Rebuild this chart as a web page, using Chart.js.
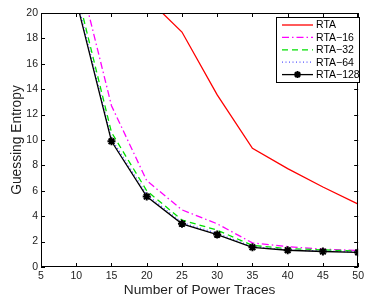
<!DOCTYPE html>
<html><head><meta charset="utf-8">
<script src="https://cdn.jsdelivr.net/npm/chart.js@4.4.1/dist/chart.umd.min.js"></script>
<style>html,body{margin:0;padding:0;background:#fff}#wrap{width:367px;height:299px}</style>
</head><body><div id="wrap"><canvas id="c" width="367" height="299"></canvas></div>
<script>
const traces = [5, 10, 15, 20, 25, 30, 35, 40, 45, 50];
const seriesNames = ['RTA', 'RTA\u221216', 'RTA\u221232', 'RTA\u221264', 'RTA\u2212128'];
const rta    = [null, null, null, 21.2, 18.5, 13.55, 9.35, 7.75, 6.3, 4.95];
const rta16  = [null, 23.9, 12.7, 6.8, 4.5, 3.4, 1.9, 1.6, 1.4, 1.3];
const rta32  = [null, 21.9, 10.6, 6.0, 3.7, 2.9, 1.7, 1.45, 1.35, 1.25];
const rta64  = [null, 21.3, 10.1, 5.7, 3.5, 2.65, 1.6, 1.35, 1.25, 1.2];
const rta128 = [null, 21.0, 9.9, 5.55, 3.4, 2.55, 1.55, 1.32, 1.22, 1.15];
const xTicks = [5, 10, 15, 20, 25, 30, 35, 40, 45, 50];
const yTicks = [0, 2, 4, 6, 8, 10, 12, 14, 16, 18, 20];

const FONT = '"Liberation Sans", Arial, sans-serif';
const toXY = arr => traces.map((x, i) => ({x, y: arr[i]}));

const styles = [
  {color: '#ff0000', dash: [], marker: false},
  {color: '#ff00ff', dash: [7, 3, 1.5, 3], marker: false},
  {color: '#00e000', dash: [6, 4], marker: false},
  {color: '#5555ff', dash: [1, 2.5], marker: false},
  {color: '#000000', dash: [], marker: true}
];
const values = [rta, rta16, rta32, rta64, rta128];

const datasets = values.map((v, i) => ({
  label: seriesNames[i],
  data: toXY(v),
  borderColor: styles[i].color,
  backgroundColor: styles[i].color,
  borderWidth: 1.3,
  borderDash: styles[i].dash,
  pointRadius: styles[i].marker ? 4 : 0,
  pointStyle: 'star',
  pointBorderWidth: 2,
  pointBorderColor: styles[i].color,
  tension: 0,
  spanGaps: false,
  clip: 0,
  order: 5 - i
}));

const framePlugin = {
  id: 'frame',
  afterDatasetsDraw(chart) {
    const {ctx, chartArea: a, scales: {x, y}} = chart;
    ctx.save();
    ctx.strokeStyle = '#000';
    ctx.lineWidth = 1;
    ctx.setLineDash([]);
    ctx.strokeRect(Math.round(a.left) + 0.5, Math.round(a.top) + 0.5, Math.round(a.right - a.left) - 1, Math.round(a.bottom - a.top) - 1);
    const L = 4;
    ctx.beginPath();
    xTicks.forEach(t => {
      const px = Math.round(x.getPixelForValue(t)) + 0.5;
      ctx.moveTo(px, a.bottom); ctx.lineTo(px, a.bottom - L);
      ctx.moveTo(px, a.top); ctx.lineTo(px, a.top + L);
    });
    yTicks.forEach(t => {
      const py = Math.round(y.getPixelForValue(t)) + 0.5;
      ctx.moveTo(a.left, py); ctx.lineTo(a.left + L, py);
      ctx.moveTo(a.right, py); ctx.lineTo(a.right - L, py);
    });
    ctx.stroke();
    ctx.restore();
  },
  afterDraw(chart) {
    const {ctx} = chart;
    const bx = 276, by = 17, bw = 83, bh = 65;
    ctx.save();
    ctx.fillStyle = '#fff';
    ctx.fillRect(bx, by, bw, bh);
    ctx.strokeStyle = '#000';
    ctx.lineWidth = 1;
    ctx.setLineDash([]);
    ctx.strokeRect(bx + 0.5, by + 0.5, bw, bh);
    ctx.font = '10.5px ' + FONT;
    ctx.textBaseline = 'middle';
    ctx.textAlign = 'left';
    chart.data.datasets.forEach((ds, i) => {
      const yy = 25 + i * 12.4;
      ctx.strokeStyle = ds.borderColor;
      ctx.lineWidth = ds.borderWidth;
      ctx.setLineDash(ds.borderDash);
      ctx.beginPath();
      ctx.moveTo(282, yy); ctx.lineTo(313, yy);
      ctx.stroke();
      ctx.setLineDash([]);
      if (ds.pointRadius > 0) {
        ctx.lineWidth = 2;
        const r = 3.5;
        ctx.beginPath();
        for (let k = 0; k < 4; k++) {
          const ang = k * Math.PI / 4;
          ctx.moveTo(297.5 + r * Math.cos(ang), yy + r * Math.sin(ang));
          ctx.lineTo(297.5 - r * Math.cos(ang), yy - r * Math.sin(ang));
        }
        ctx.stroke();
      }
      ctx.fillStyle = '#000';
      ctx.fillText(ds.label, 316, yy + 0.5);
    });
    ctx.restore();
  }
};

new Chart(document.getElementById('c'), {
  type: 'line',
  data: {datasets},
  plugins: [framePlugin],
  options: {
    responsive: false,
    animation: false,
    events: [],
    layout: {padding: {top: 13, right: 4, left: 0, bottom: 0}},
    plugins: {legend: {display: false}, tooltip: {enabled: false}},
    scales: {
      x: {
        type: 'linear', min: 5, max: 50,
        afterBuildTicks: s => { s.ticks = xTicks.map(v => ({value: v})); },
        afterFit: s => { s.height = 32; },
        grid: {display: false, drawTicks: false, tickLength: 0}, border: {display: false},
        ticks: {font: {size: 10.5, family: FONT}, color: '#222', padding: 3, maxRotation: 0, autoSkip: false},
        title: {display: true, text: 'Number of Power Traces', font: {size: 13.7, family: FONT}, color: '#222', padding: {top: 0, bottom: 1}}
      },
      y: {
        type: 'linear', min: 0, max: 20,
        afterBuildTicks: s => { s.ticks = yTicks.map(v => ({value: v})); },
        afterFit: s => { s.width = 41; },
        grid: {display: false, drawTicks: false, tickLength: 0}, border: {display: false},
        ticks: {font: {size: 10.5, family: FONT}, color: '#222', padding: 3, autoSkip: false},
        title: {display: true, text: 'Guessing Entropy', font: {size: 13.8, family: FONT}, color: '#222', padding: {top: 9, bottom: 0}}
      }
    }
  }
});
</script></body></html>
